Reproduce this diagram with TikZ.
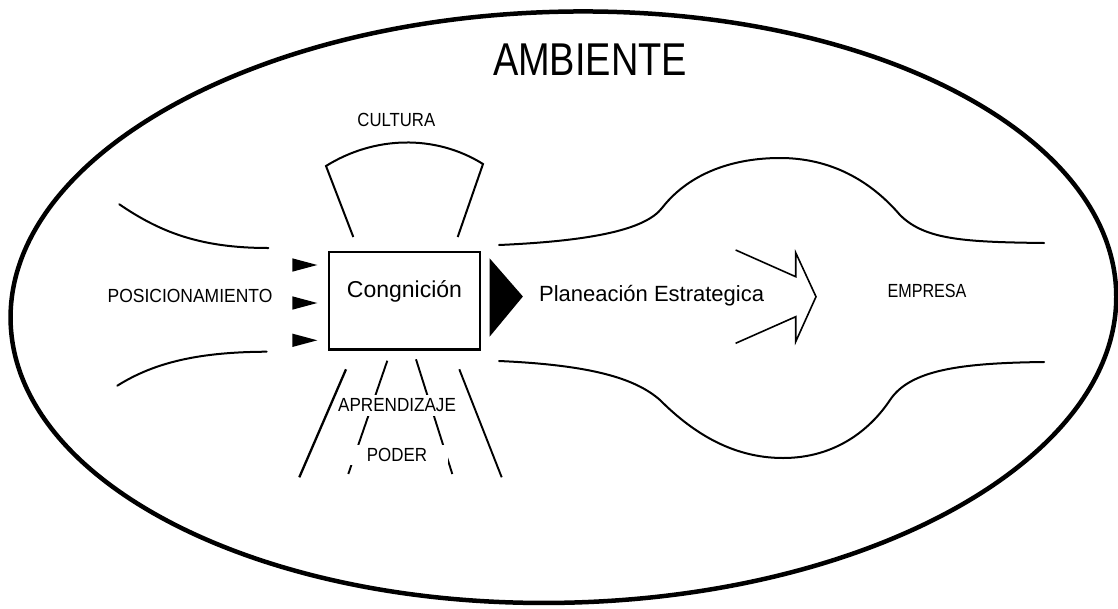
\documentclass[tikz,border=0pt]{standalone}
\usepackage{fontspec}
\setmainfont{Liberation Sans}
\usepackage{graphicx}
\newcommand{\hsq}[2]{\scalebox{#1}[1]{#2}}
\pgfdeclarelayer{background}
\pgfsetlayers{background,main}
\begin{document}
\begin{tikzpicture}[x=1pt,y=-1pt,
  curve/.style={line width=2pt, line cap=round},
  ray/.style={line width=1.9pt},
  lbl/.style={inner sep=0pt, anchor=base},
  capsfont/.style={font=\fontsize{19pt}{22pt}\selectfont},
  mask/.style={fill=white, inner xsep=1pt, inner ysep=4pt, anchor=base},
]
\useasboundingbox (0,0) rectangle (1118,608);

% outer environment
\draw[line width=4.5pt, rotate around={1.5:(563.4,307.2)}] (563.4,307.2) ellipse [x radius=553pt, y radius=295.5pt];

% labels
\node[lbl, font=\fontsize{46pt}{50pt}\selectfont] (amb) at (590,75) {\hsq{0.825}{AMBIENTE}};
\node[lbl, capsfont] (cult) at (396.3,126.7) {\hsq{0.88}{CULTURA}};
\node[lbl, capsfont] (pos) at (190,302.7) {\hsq{0.92}{POSICIONAMIENTO}};
\node[lbl, font=\fontsize{22pt}{26pt}\selectfont] (plan) at (651.6,301) {Planeación Estrategica};
\node[lbl, capsfont] (emp) at (927,297.7) {\hsq{0.85}{EMPRESA}};

% cognition box
\node[draw, line width=1.3pt, minimum width=151pt, minimum height=97pt, inner sep=0pt,
      text height=17pt, text depth=23.4pt, font=\fontsize{23pt}{26pt}\selectfont]
      (cog) at (404.5,300.5) {Congnición};
\draw[line width=3pt] (cog.south west) -- (cog.south east);

% labels masking the rays below the box
\node[mask, capsfont] (apr) at (397,411.7) {\hsq{0.9}{APRENDIZAJE}};
\node[mask, capsfont, inner ysep=3.5pt, minimum width=102pt] (pod) at (397,461.7) {\hsq{0.89}{PODER}};

\begin{pgfonlayer}{background}
  \draw[ray, line width=2.3pt] (346,369.3) -- (299.3,477.3);
  \draw[ray] (387.3,360.7) -- (348.3,474);
  \draw[ray] (416,359.3) -- (452.3,474);
  \draw[ray] (459.3,369.3) -- (501.7,477.3);
\end{pgfonlayer}

% cultura cap
\draw[curve, line cap=butt] (353.3,237) -- (326,166) .. controls (374,136) and (435,134) .. (483,164) -- (457.7,237);

% left flow curves
\draw[curve] (119.3,204.3) .. controls (160,232) and (200,248) .. (268.3,248);
\draw[curve] (117.3,385.7) .. controls (155,362) and (200,352) .. (266.7,351.7);

% input triangles
\fill (292.3,258.3) -- (317.3,265) -- (292.3,271.7) -- cycle;
\fill (292.3,296.3) -- (317.3,303) -- (292.3,309.7) -- cycle;
\fill (292.3,333.6) -- (317.3,340.3) -- (292.3,347) -- cycle;

% output triangle
\fill (489.6,258.3) -- (522.9,296.5) -- (489.6,336.7) -- cycle;

% empresa shape
\draw[curve] (499,245) .. controls (590,241) and (645,230) .. (662,208)
  .. controls (690,172) and (735,158) .. (780,158)
  .. controls (830,158) and (870,180) .. (900,215)
  .. controls (925,240) and (965,242) .. (1044,243);
\draw[curve] (499,361) .. controls (590,365) and (635,378) .. (660,400)
  .. controls (690,430) and (730,458) .. (783,458)
  .. controls (835,458) and (870,430) .. (890,400)
  .. controls (910,370) and (960,363) .. (1044,362);

% open arrow
\draw[line width=1.6pt, line join=miter] (735.6,250) -- (795.7,276.7) -- (795.7,252.7) -- (816,296.7)
  -- (795.7,341.7) -- (795.7,316.7) -- (735.6,343.3);
\end{tikzpicture}
\end{document}
